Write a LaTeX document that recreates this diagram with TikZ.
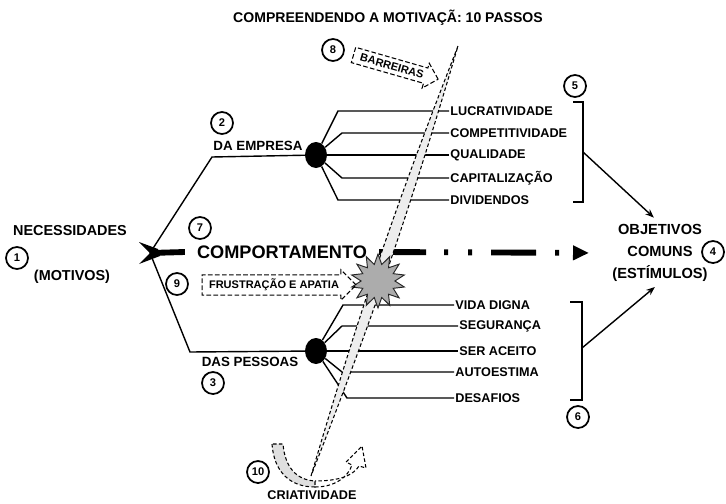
\documentclass[tikz,border=0pt]{standalone}
\usepackage{fontspec}
\setmainfont{Liberation Sans}
\usetikzlibrary{arrows.meta, shapes.geometric, shapes.arrows}

\tikzset{
  num/.style={circle, draw, line width=1.5pt, inner sep=0pt, minimum size=0.66cm,
              font=\fontsize{9.5}{10}\selectfont\bfseries},
  lbl/.style={font=\fontsize{12.3}{15}\selectfont\bfseries, inner sep=1pt},
  itemtext/.style={anchor=west, font=\fontsize{10.8}{12}\selectfont\bfseries, inner sep=1pt},
  branch/.style={line width=1.2pt},
  hub/.style={ellipse, fill=black, minimum width=0.66cm, minimum height=0.78cm, inner sep=0pt},
  bandline/.style={line width=0.9pt, dash pattern=on 3pt off 2pt},
  tagbox/.style={single arrow, draw, line width=0.9pt, dash pattern=on 4pt off 2pt,
                 font=\fontsize{9.4}{10}\selectfont\bfseries, inner xsep=2pt, inner ysep=3pt,
                 single arrow head extend=0.15cm},
}

\begin{document}
\begin{tikzpicture}[x=0.03cm, y=-0.03cm]
    \useasboundingbox (0,0) rectangle (726,504);

    % title
    \node[font=\fontsize{12}{14}\selectfont\bfseries] (title) at (388,18) {COMPREENDENDO A MOTIVAÇÃ: 10 PASSOS};

    % left side: needs
    \node[lbl] (need) at (70,231) {NECESSIDADES};
    \node[lbl] (needsub) at (72,277) {(MOTIVOS)};

    % the two hubs and their labels
    \coordinate (fork) at (150,253);
    \node[hub] (hubA) at (316,155) {};
    \node[hub] (hubB) at (316,351) {};
    \node[lbl, font=\fontsize{11.4}{13}\selectfont\bfseries] (firm) at (258,146) {DA EMPRESA};
    \node[lbl, font=\fontsize{11.4}{13}\selectfont\bfseries] (people) at (250,362) {DAS PESSOAS};
    \draw[branch] (fork) -- (212,157) -- (hubA);
    \draw[branch] (fork) -- (190,352) -- (hubB);

    % items of the firm: text / y / corner x
    \foreach \txt/\y/\cx [count=\i] in {LUCRATIVIDADE/111/338, COMPETITIVIDADE/133/342,
        QUALIDADE/155/330, CAPITALIZAÇÃO/178/342, DIVIDENDOS/200/338} {
        \node[itemtext] (up-\i) at (449,\y) {\txt};
        \draw[branch] (hubA) -- (\cx,\y) -- (up-\i.west);
    }

    % items of the people: text / y / corner x / text x
    \foreach \txt/\y/\cx/\tx [count=\i] in {VIDA DIGNA/305/343/454, SEGURANÇA/326/342/458,
        SER ACEITO/351/330/458, AUTOESTIMA/372/342/454, DESAFIOS/398/347/454} {
        \node[itemtext] (dn-\i) at (\tx,\y) {\txt};
        \draw[branch] (hubB) -- (\cx,\y) -- (dn-\i.west);
    }

    % behaviour arrow
    \node[font=\fontsize{15.5}{17}\selectfont\bfseries, inner xsep=0.36cm, inner ysep=1pt] (comport) at (282,252) {COMPORTAMENTO};
    \node[lbl, font=\fontsize{12.5}{18.5}\selectfont\bfseries, align=center] (goal) at (660,253) {OBJETIVOS\\COMUNS\\(ESTÍMULOS)};
    \draw[line width=5pt] (fork) -- (comport.west);
    \fill (139,242) -- (158,249) -- (160,256) -- (139,264) -- (150,253) -- cycle;
    \draw[line width=5pt, dash pattern=on 1.41cm off 0.54cm on 0.12cm off 0.6cm on 0.12cm off 0.57cm on 1.35cm off 0.57cm on 0.12cm off 0.9cm,
          -{Triangle[length=0.48cm, width=0.42cm]}, shorten >=0.66cm] (comport.east) -- (goal.west);

    % brackets to the common goals
    \draw[line width=1.3pt] (573,102) -- (583,102) -- (583,202) -- (573,202);
    \draw[line width=1.3pt] (570,302) -- (582,302) -- (582,400) -- (570,400);
    \coordinate (brA) at (583,152);
    \coordinate (brB) at (582,348);
    \draw[line width=1.2pt, -{Stealth[length=0.26cm, width=0.2cm]}, shorten >=0.25cm] (brA) -- (goal.north);
    \draw[line width=1.2pt, -{Stealth[length=0.26cm, width=0.2cm]}, shorten >=0.2cm] (brB) -- (goal.south);

    % barrier band
    \coordinate (bandlow) at (311,476);
    \coordinate (bandtop) at (458,46);
    \filldraw[bandline, fill=gray!14] (bandlow) to[bend left=2.4] (bandtop) to[bend left=2.4] (bandlow);

    % clash and its tags
    \node[star, star points=14, star point ratio=1.6, minimum size=1.62cm, fill=gray!65,
          draw=gray!30!black, line width=0.8pt, inner sep=0pt] (clash) at (378,281) {};
    \node[tagbox, minimum height=4.62cm] (frust) at (274,285) {FRUSTRAÇÃO E APATIA};
    \node[tagbox, rotate=-16, minimum height=2.64cm] (barr) at (392,66) {BARREIRAS};

    % creativity hook
    \filldraw[bandline, fill=gray!25] (272,444) .. controls (274,472) and (290,487) .. (315,487)
        -- (315,481) .. controls (297,480) and (285,468) .. (283,444) -- cycle;
    \draw[bandline] (315,487) .. controls (335,487) and (348,477) .. (352,465) -- (346,462) -- (362,446)
        -- (366,468) -- (359,466) .. controls (353,476) and (338,481) .. (315,481);
    \node[itemtext, anchor=center] (creat) at (312,495) {CRIATIVIDADE};

    % step numbers
    \foreach \n/\x/\y in {1/17/258, 2/222/123, 3/213/383, 4/713/252, 5/575/86,
        6/578/417, 7/200/228, 8/333/50, 9/177/284, 10/258/472} {
        \node[num] (num-\n) at (\x,\y) {\n};
    }
\end{tikzpicture}
\end{document}
